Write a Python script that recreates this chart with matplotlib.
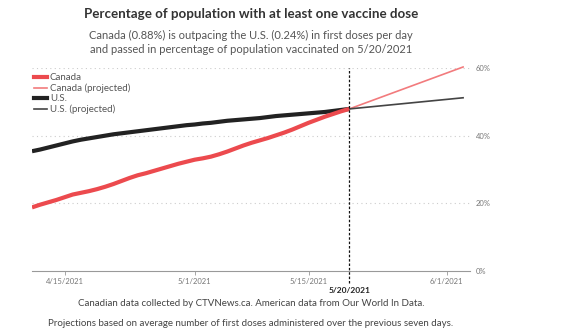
import numpy as np
import matplotlib
matplotlib.use("Agg")
import matplotlib.pyplot as plt
import matplotlib.dates as mdates
from matplotlib.lines import Line2D
from datetime import date, timedelta

plt.rcParams['font.family'] = ['Lato', 'DejaVu Sans']

# Data, daily from 4/11/2021 to 5/20/2021
start = date(2021, 4, 11)
canada = [18.8, 19.6, 20.3, 21.0, 21.8, 22.6, 23.1, 23.6, 24.2, 24.9,
          25.7, 26.6, 27.5, 28.3, 28.9, 29.6, 30.3, 31.0, 31.7, 32.3,
          32.9, 33.3, 33.8, 34.5, 35.3, 36.2, 37.1, 37.9, 38.6, 39.3,
          40.1, 40.9, 41.8, 42.8, 43.8, 44.7, 45.6, 46.4, 47.2, 47.9]
us = [35.4, 35.9, 36.5, 37.1, 37.7, 38.3, 38.8, 39.2, 39.6, 40.0,
      40.4, 40.7, 41.0, 41.3, 41.6, 41.9, 42.2, 42.5, 42.8, 43.1,
      43.3, 43.6, 43.8, 44.1, 44.4, 44.6, 44.8, 45.0, 45.2, 45.5,
      45.8, 46.0, 46.2, 46.4, 46.6, 46.8, 47.0, 47.3, 47.6, 47.9]
days = [start + timedelta(days=i) for i in range(len(canada))]

# projections: 5/20 -> 6/3
proj_days = [date(2021, 5, 20), date(2021, 6, 3)]
canada_proj = [47.9, 60.3]
us_proj = [47.9, 51.2]

tick_dates = [date(2021, 4, 15), date(2021, 5, 1), date(2021, 5, 15), date(2021, 6, 1)]
tick_labels = ["4/15/2021", "5/1/2021", "5/15/2021", "6/1/2021"]
y_ticks = [0, 20, 40, 60]
cross_date = date(2021, 5, 20)

red = "#ec4a4e"
red_light = "#f27b7d"
black = "#222222"
grey_txt = "#777777"

fig = plt.figure(figsize=(5.66, 3.30), dpi=100)
ax = fig.add_axes([32 / 566, 1 - 271 / 330, (470 - 32) / 566, (271 - 68) / 330])

ax.plot(days, us, color=black, lw=3.0, zorder=3, solid_capstyle="butt")
ax.plot(days, canada, color=red, lw=3.0, zorder=4, solid_capstyle="butt")
ax.plot(proj_days, canada_proj, color=red_light, lw=1.2, zorder=3, clip_on=False)
ax.plot(proj_days, us_proj, color="#444444", lw=1.2, zorder=3, clip_on=False)

ax.set_xlim(mdates.date2num(start), mdates.date2num(date(2021, 6, 3)) + 0.85)
ax.set_ylim(0, 60)

# dotted grid lines
for yv in y_ticks[1:]:
    ax.axhline(yv, color="#cccccc", lw=0.8, ls=(0, (1, 3)), zorder=1)

for s in ["left", "right", "top"]:
    ax.spines[s].set_visible(False)
ax.spines["bottom"].set_color("#999999")
ax.spines["bottom"].set_linewidth(0.8)

ax.set_xticks(tick_dates)
ax.set_xticklabels(tick_labels)
ax.tick_params(axis="x", length=3, width=0.6, color="#999999", labelsize=5.5,
               labelcolor=grey_txt, pad=2)
ax.yaxis.tick_right()
ax.set_yticks(y_ticks)
ax.set_yticklabels([f"{v}%" for v in y_ticks])
ax.tick_params(axis="y", length=0, labelsize=5.5, labelcolor=grey_txt, pad=4)

# vertical dashed marker
ax.axvline(cross_date, ymin=-0.06, ymax=1.0, color="#111111", lw=0.9,
           ls=(0, (2, 1.5)), clip_on=False, zorder=5)
ax.text(mdates.date2num(cross_date), -0.095, "5/20/2021", transform=ax.get_xaxis_transform(),
        ha="center", va="center", fontsize=6, fontweight="bold", color="#222222")

# legend
handles = [Line2D([0], [0], color=red, lw=3.0),
           Line2D([0], [0], color=red_light, lw=1.2),
           Line2D([0], [0], color=black, lw=3.0),
           Line2D([0], [0], color="#444444", lw=1.2)]
labels = ["Canada", "Canada (projected)", "U.S.", "U.S. (projected)"]
leg = ax.legend(handles, labels, loc="upper left", bbox_to_anchor=(0, 0.985), frameon=False,
                fontsize=7, handlelength=1.35, handletextpad=0.3, labelspacing=0.15,
                borderaxespad=0, borderpad=0.2)
for t in leg.get_texts():
    t.set_color("#555555")

# titles
cx = (32 + 470) / 2 / 566
fig.text(cx, 1 - 14 / 330, "Percentage of population with at least one vaccine dose",
         ha="center", va="center", fontsize=9.6, fontweight="bold", color="#333333")
fig.text(cx, 1 - 35 / 330, "Canada (0.88%) is outpacing the U.S. (0.24%) in first doses per day",
         ha="center", va="center", fontsize=8.0, color="#555555")
fig.text(cx, 1 - 49.5 / 330, "and passed in percentage of population vaccinated on 5/20/2021",
         ha="center", va="center", fontsize=8.0, color="#555555")
fig.text(cx, 1 - 304 / 330, "Canadian data collected by CTVNews.ca. American data from Our World In Data.",
         ha="center", va="center", fontsize=7.0, color="#444444")
fig.text(cx, 1 - 323 / 330, "Projections based on average number of first doses administered over the previous seven days.",
         ha="center", va="center", fontsize=7.0, color="#444444")

fig.savefig("out.png", dpi=100)
